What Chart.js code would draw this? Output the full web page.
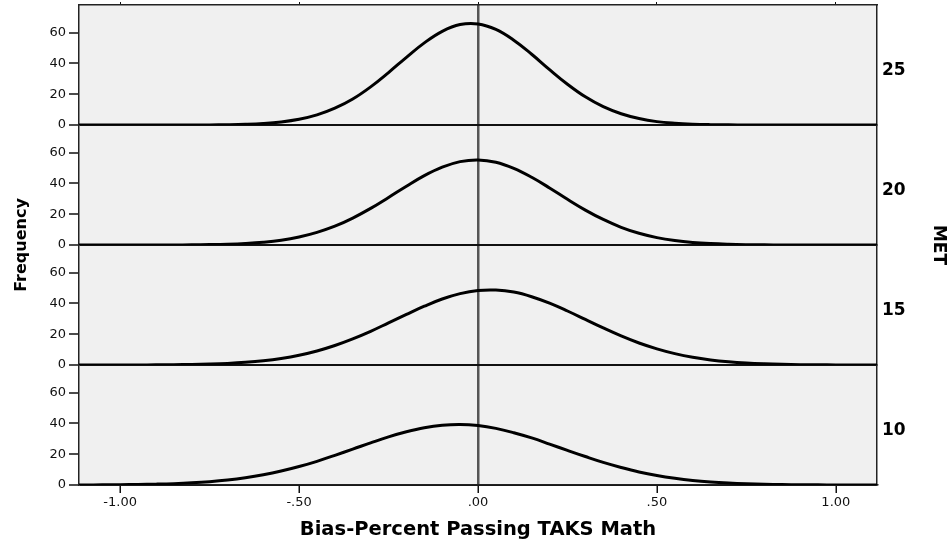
<!DOCTYPE html>
<html>
<head>
<meta charset="utf-8">
<title>Bias-Percent Passing TAKS Math by MET</title>
<script src="https://cdn.jsdelivr.net/npm/chart.js@4.4.1/dist/chart.umd.min.js"></script>
<style>
  html, body { margin: 0; padding: 0; background: #ffffff; }
  canvas { display: block; }
</style>
</head>
<body>
<canvas id="chart" width="951" height="542"></canvas>
<script>
// Positions along the bias axis where each fitted curve is sampled
const biasValues = [
  -1.15, -1.10, -1.05, -1.00, -0.95, -0.90, -0.85, -0.80, -0.75, -0.70, -0.65, -0.60,
  -0.55, -0.50, -0.45, -0.40, -0.35, -0.30, -0.25, -0.20, -0.15, -0.10, -0.05,
   0.00,  0.05,  0.10,  0.15,  0.20,  0.25,  0.30,  0.35,  0.40,  0.45,  0.50,
   0.55,  0.60,  0.65,  0.70,  0.75,  0.80,  0.85,  0.90,  0.95,  1.00,  1.05,
   1.10,  1.15
];

// Frequency curve for each MET group
const met25 = [
  0, 0, 0, 0, 0, 0, 0.01, 0.03, 0.08, 0.2, 0.46, 0.98,
  1.97, 3.7, 6.55, 10.9, 16.9, 24.8, 34.1, 44.0, 53.4, 60.9, 65.3,
  65.7, 62.1, 55.1, 46.0, 36.0, 26.5, 18.3, 11.9, 7.3, 4.2, 2.2,
  1.14, 0.54, 0.24, 0.1, 0.04, 0.01, 0, 0, 0, 0, 0,
  0, 0
];
const met20 = [
  0, 0, 0, 0, 0.01, 0.02, 0.05, 0.12, 0.26, 0.52, 1.0, 1.8,
  3.1, 5.2, 8.2, 12.2, 17.5, 23.8, 30.9, 38.2, 45.1, 50.6, 54.2,
  55.3, 53.8, 49.8, 44.0, 37.1, 29.7, 22.7, 16.6, 11.5, 7.6, 4.8,
  2.9, 1.65, 0.9, 0.47, 0.23, 0.11, 0.05, 0.02, 0.01, 0, 0,
  0, 0
];
const met15 = [
  0, 0.01, 0.01, 0.02, 0.05, 0.1, 0.18, 0.34, 0.61, 1.04, 1.73, 2.76,
  4.27, 6.36, 9.14, 12.7, 17.0, 21.9, 27.4, 32.9, 38.2, 42.9, 46.4,
  48.4, 48.7, 47.4, 44.4, 40.2, 35.1, 29.6, 24.1, 18.9, 14.3, 10.5,
  7.4, 5.0, 3.3, 2.1, 1.28, 0.76, 0.43, 0.24, 0.13, 0.06, 0.03,
  0.01, 0
];
const met10 = [
  0.03, 0.06, 0.1, 0.19, 0.32, 0.55, 0.89, 1.42, 2.18, 3.25, 4.72, 6.64,
  9.06, 12.0, 15.4, 19.3, 23.3, 27.4, 31.3, 34.6, 37.2, 38.8, 39.3,
  38.6, 36.8, 34.0, 30.6, 26.6, 22.5, 18.5, 14.7, 11.4, 8.5, 6.2,
  4.4, 3.0, 2.0, 1.3, 0.81, 0.49, 0.29, 0.17, 0.09, 0.05, 0.03,
  0.01, 0
];

// Group labels (top to bottom) and tick labels
const metGroups = ['25', '20', '15', '10'];
const frequencyTicks = [0, 20, 40, 60];
const biasTickValues = [-1, -0.5, 0, 0.5, 1];
const biasTickLabels = ['-1.00', '-.50', '.00', '.50', '1.00'];

const groupSeries = { '25': met25, '20': met20, '15': met15, '10': met10 };

const FONT_FAMILY = "'DejaVu Sans', 'Liberation Sans', Arial, sans-serif";
const X_MIN = -1.115, X_MAX = 1.115;
const Y_MAX = 78;
const GROUP_LABEL_AT = 0.45;   // vertical spot of the group label within its panel (0 = bottom, 1 = top)

// Light grey panel fill behind the curves
const plotBackground = {
  id: 'plotBackground',
  beforeDraw(chart) {
    const { ctx, chartArea: a } = chart;
    ctx.save();
    ctx.fillStyle = '#f0f0f0';
    ctx.fillRect(a.left, a.top, a.right - a.left, a.bottom - a.top);
    ctx.restore();
  }
};

// Keep tick labels from adding extra space around the plot
function noEdgePadding(scale) {
  scale.paddingTop = 0;
  scale.paddingBottom = 0;
  scale.paddingLeft = 0;
  scale.paddingRight = 0;
}

const scales = {
  x: {
    type: 'linear',
    position: 'bottom',
    min: X_MIN,
    max: X_MAX,
    afterBuildTicks(scale) { scale.ticks = biasTickValues.map(v => ({ value: v })); },
    afterFit(scale) { scale.height = 57; noEdgePadding(scale); },
    ticks: {
      color: '#111',
      font: { family: FONT_FAMILY, size: 13 },
      padding: 2,
      maxRotation: 0,
      autoSkip: false,
      callback(value) {
        const i = biasTickValues.indexOf(value);
        return i >= 0 ? biasTickLabels[i] : '';
      }
    },
    grid: {
      drawOnChartArea: true,
      color: ctx => (ctx.tick && ctx.tick.value === 0) ? '#555555' : 'rgba(0,0,0,0)',
      lineWidth: 2.5,
      tickColor: '#111',
      tickWidth: 1.5,
      tickLength: 8
    },
    border: { display: true, color: '#222', width: 1.5 },
    title: {
      display: true,
      text: 'Bias-Percent Passing TAKS Math',
      color: '#000',
      font: { family: FONT_FAMILY, size: 19.5, weight: 'bold' },
      padding: { top: 0, bottom: 0 }
    }
  },
  xTop: {
    type: 'linear',
    position: 'top',
    min: X_MIN,
    max: X_MAX,
    afterBuildTicks(scale) { scale.ticks = biasTickValues.map(v => ({ value: v })); },
    afterFit(scale) { scale.height = 5; noEdgePadding(scale); },
    ticks: { display: false },
    grid: { drawOnChartArea: false, tickColor: '#111', tickWidth: 1, tickLength: 3 },
    border: { display: true, color: '#222', width: 1.5 }
  },
  yFreq: {
    axis: 'y',
    type: 'linear',
    position: 'left',
    weight: 2,
    afterFit(scale) { scale.width = 36; noEdgePadding(scale); },
    ticks: { display: false },
    grid: { display: false, drawTicks: false },
    border: { display: false },
    title: {
      display: true,
      text: 'Frequency',
      color: '#000',
      font: { family: FONT_FAMILY, size: 16, weight: 'bold' },
      padding: { top: 12, bottom: 0 }
    }
  },
  yMet: {
    axis: 'y',
    type: 'linear',
    position: 'right',
    weight: 2,
    afterFit(scale) { scale.width = 34; noEdgePadding(scale); },
    ticks: { display: false },
    grid: { display: false, drawTicks: false },
    border: { display: false },
    title: {
      display: true,
      text: 'MET',
      color: '#000',
      font: { family: FONT_FAMILY, size: 17, weight: 'bold' },
      padding: { top: 2, bottom: 0 }
    }
  }
};

// Left-hand frequency axes, one per panel; the layout stacks left boxes
// in reverse order, so they are declared bottom panel first.
metGroups.slice().reverse().forEach(group => {
  scales['y' + group] = {
    axis: 'y',
    type: 'linear',
    position: 'left',
    stack: 'frequency',
    stackWeight: 1,
    weight: 0,
    min: 0,
    max: Y_MAX,
    afterBuildTicks(scale) { scale.ticks = frequencyTicks.map(v => ({ value: v })); },
    afterFit(scale) { scale.width = 43; noEdgePadding(scale); },
    ticks: {
      color: '#111',
      font: { family: FONT_FAMILY, size: 13 },
      padding: 3
    },
    grid: {
      drawOnChartArea: true,
      color: ctx => (ctx.tick && ctx.tick.value === 0) ? '#111111' : 'rgba(0,0,0,0)',
      lineWidth: 2,
      tickColor: '#111',
      tickWidth: 1.5,
      tickLength: 10
    },
    border: { display: true, color: '#222', width: 1.5 }
  };
});

// Right-hand MET group labels, top panel first
metGroups.forEach(group => {
  scales['yGroup' + group] = {
    axis: 'y',
    type: 'linear',
    position: 'right',
    stack: 'groups',
    stackWeight: 1,
    weight: 0,
    min: 0,
    max: 1,
    afterBuildTicks(scale) { scale.ticks = [{ value: GROUP_LABEL_AT }]; },
    afterFit(scale) { scale.width = 40; noEdgePadding(scale); },
    ticks: {
      color: '#000',
      font: { family: FONT_FAMILY, size: 17, weight: 'bold' },
      padding: 5,
      callback: () => group
    },
    grid: { display: false, drawTicks: false },
    border: { display: true, color: '#222', width: 1.5 }
  };
});

const datasets = metGroups.map(group => ({
  label: 'MET ' + group,
  data: biasValues.map((x, k) => ({ x: x, y: groupSeries[group][k] })),
  xAxisID: 'x',
  yAxisID: 'y' + group,
  borderColor: '#000000',
  borderWidth: 3,
  pointRadius: 0,
  fill: false,
  tension: 0.4
}));

new Chart(document.getElementById('chart'), {
  type: 'line',
  data: { datasets },
  options: {
    responsive: false,
    animation: false,
    devicePixelRatio: 1,
    layout: { padding: 0 },
    plugins: {
      legend: { display: false },
      tooltip: { enabled: false }
    },
    scales
  },
  plugins: [plotBackground]
});
</script>
</body>
</html>
